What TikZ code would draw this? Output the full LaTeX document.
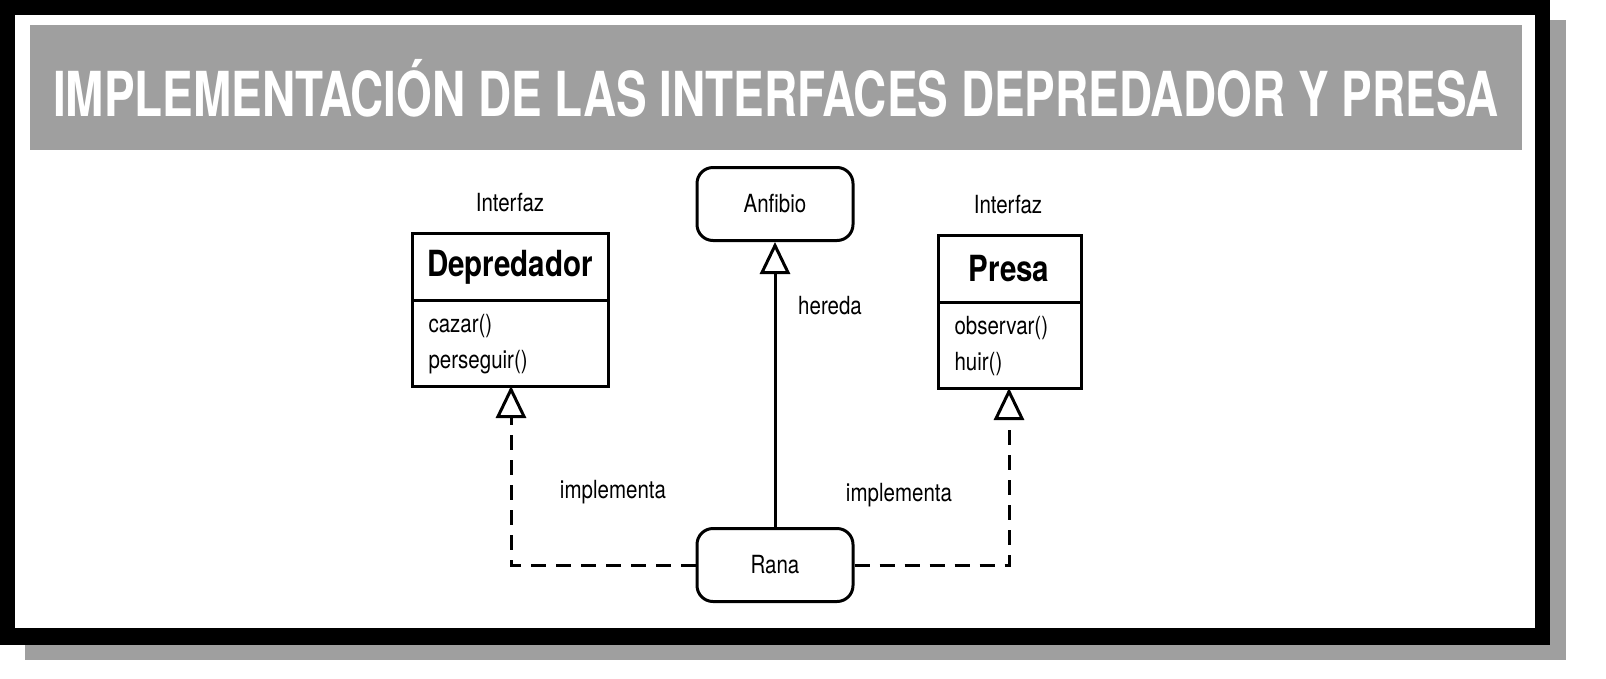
\documentclass[tikz,border=0pt]{standalone}
\usepackage{fontspec}
\setmainfont[FakeStretch=0.82]{TeX Gyre Heros}
\newfontfamily\titlefont[FakeStretch=0.74]{TeX Gyre Heros}
\usetikzlibrary{arrows.meta}
\begin{document}
\begin{tikzpicture}[x=1pt,y=-1pt,
  ln/.style={line width=3pt},
  tri/.style={-{Triangle[open,width=30pt,length=32pt,line width=3pt]}},
  rbox/.style={draw,line width=3pt,rounded corners=16pt,minimum width=156pt,minimum height=73pt,font=\fontsize{25}{29}\selectfont},
  lbl/.style={font=\fontsize{25}{29}\selectfont},
  dashln/.style={line width=3pt,dash pattern=on 15pt off 10pt}]
\useasboundingbox (0,0) rectangle (1606,678);
\fill[gray!75] (25,20) rectangle (1566,660);
\fill[black] (0,0) rectangle (1550,645);
\fill[white] (15,15) rectangle (1535,628);
\fill[gray!75] (30,25) rectangle (1522,150);
\node[white,font=\titlefont\fontsize{62}{66}\selectfont\bfseries] (title) at (776,88) {IMPLEMENTACIÓN DE LAS INTERFACES DEPREDADOR Y PRESA};
% Depredador
\draw[ln] (412,233) rectangle (608,386);
\draw[ln] (412,300) -- (608,300);
\coordinate (dep) at (511,386);
\node[font=\fontsize{36}{40}\selectfont\bfseries] (depn) at (510,267) {Depredador};
\node[lbl,anchor=west] (m1) at (425,326) {cazar()};
\node[lbl,anchor=west] (m2) at (425,362) {perseguir()};
\node[lbl] (i1) at (510,203) {Interfaz};
% Presa
\draw[ln] (938,235) rectangle (1081,388);
\draw[ln] (938,302) -- (1081,302);
\coordinate (pre) at (1009,388);
\node[font=\fontsize{36}{40}\selectfont\bfseries] (pren) at (1009,269) {Presa};
\node[lbl,anchor=west] (m3) at (951,328) {observar()};
\node[lbl,anchor=west] (m4) at (951,364) {huir()};
\node[lbl] (i2) at (1008,205) {Interfaz};
% Anfibio, Rana
\node[rbox] (anf) at (775,204) {Anfibio};
\node[rbox] (rana) at (775,565) {Rana};
\draw[ln,tri] (rana.north) -- (anf.south);
\node[lbl] (her) at (830,306) {hereda};
\draw[dashln,tri] (rana.west) -| (dep);
\draw[dashln,tri] (rana.east) -| (pre);
\node[lbl] (im1) at (613,492) {implementa};
\node[lbl] (im2) at (899,495) {implementa};
\end{tikzpicture}
\end{document}
